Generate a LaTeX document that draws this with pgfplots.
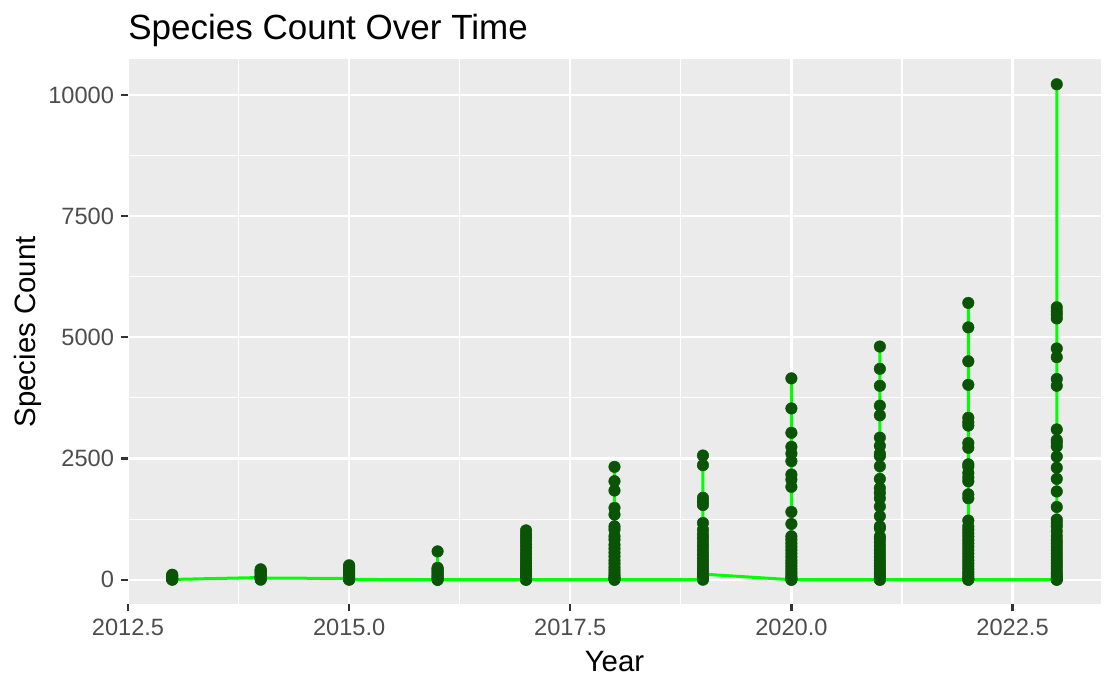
\documentclass[border=0pt]{standalone}
\usepackage{pgfplots}
\pgfplotsset{compat=1.18}
\usepackage{pgfplotstable}
\usepackage{fontspec}
\setmainfont{Liberation Sans}
\definecolor{panelbg}{HTML}{EBEBEB}
\definecolor{ticklab}{HTML}{4D4D4D}
\definecolor{tickcol}{HTML}{333333}
\definecolor{ptgreen}{RGB}{10,85,5}
\definecolor{lngreen}{RGB}{0,255,0}
\pgfplotstableread{
x y
2013 0
2013 10
2013 20
2013 35
2013 50
2013 70
2013 90
2013 103
2013 5
2014 45
2014 0
2014 15
2014 30
2014 50
2014 75
2014 100
2014 125
2014 150
2014 175
2014 195
2014 214
2014 35
2015 25
2015 0
2015 15
2015 35
2015 60
2015 90
2015 120
2015 150
2015 180
2015 210
2015 240
2015 270
2015 297
2015 5
2016 2
2016 0
2016 20
2016 45
2016 70
2016 100
2016 130
2016 160
2016 190
2016 220
2016 245
2016 584
2016 0
2017 0
2017 30
2017 60
2017 100
2017 140
2017 180
2017 230
2017 280
2017 330
2017 390
2017 450
2017 520
2017 590
2017 660
2017 730
2017 800
2017 870
2017 940
2017 1017
2017 0
2018 0
2018 20
2018 50
2018 90
2018 140
2018 200
2018 260
2018 330
2018 400
2018 480
2018 560
2018 640
2018 720
2018 826
2018 900
2018 1033
2018 1100
2018 1343
2018 1481
2018 1839
2018 2031
2018 2328
2018 0
2019 0
2019 30
2019 70
2019 120
2019 180
2019 240
2019 300
2019 370
2019 440
2019 520
2019 600
2019 680
2019 760
2019 850
2019 930
2019 1030
2019 1170
2019 1540
2019 1610
2019 1690
2019 2362
2019 2562
2019 115
2020 0
2020 20
2020 60
2020 110
2020 160
2020 220
2020 280
2020 340
2020 400
2020 470
2020 540
2020 610
2020 680
2020 750
2020 826
2020 895
2020 1150
2020 1398
2020 1915
2020 2066
2020 2169
2020 2445
2020 2603
2020 2741
2020 3030
2020 3533
2020 4153
2020 0
2021 0
2021 20
2021 60
2021 110
2021 160
2021 220
2021 280
2021 340
2021 400
2021 470
2021 540
2021 610
2021 690
2021 770
2021 850
2021 890
2021 1060
2021 1100
2021 1310
2021 1510
2021 1680
2021 1790
2021 1890
2021 2080
2021 2340
2021 2550
2021 2600
2021 2760
2021 2930
2021 3390
2021 3590
2021 4000
2021 4350
2021 4810
2021 0
2022 0
2022 20
2022 60
2022 110
2022 160
2022 220
2022 280
2022 340
2022 400
2022 470
2022 540
2022 610
2022 680
2022 750
2022 820
2022 890
2022 960
2022 1030
2022 1100
2022 1220
2022 1680
2022 1760
2022 2030
2022 2110
2022 2200
2022 2330
2022 2380
2022 2720
2022 2820
2022 3180
2022 3250
2022 3340
2022 4020
2022 4505
2022 5205
2022 5710
2022 0
2023 0
2023 20
2023 60
2023 110
2023 160
2023 220
2023 280
2023 340
2023 400
2023 470
2023 540
2023 610
2023 680
2023 750
2023 820
2023 900
2023 1000
2023 1100
2023 1170
2023 1240
2023 1500
2023 1820
2023 2080
2023 2310
2023 2540
2023 2750
2023 2830
2023 2880
2023 3100
2023 4000
2023 4140
2023 4590
2023 4770
2023 5390
2023 5470
2023 5540
2023 5620
2023 10220
2023 0
}\species
\begin{document}
\begin{tikzpicture}
\useasboundingbox (-64pt,-42.25pt) rectangle (494pt,302.25pt);
\begin{axis}[
  at={(0,0)}, anchor=south west,
  scale only axis,
  width=486.5pt, height=272.75pt,
  xmin=2012.5, xmax=2023.5,
  ymin=-511.5, ymax=10741.5,
  axis background/.style={fill=panelbg},
  axis line style={draw=none},
  xtick={2012.5,2015,2017.5,2020,2022.5},
  xticklabels={2012.5,2015.0,2017.5,2020.0,2022.5},
  ytick={0,2500,5000,7500,10000},
  yticklabels={0,2500,5000,7500,10000},
  scaled y ticks=false,
  minor xtick={2013.75,2016.25,2018.75,2021.25},
  minor ytick={1250,3750,6250,8750},
  grid=both,
  major grid style={white, line width=1.1pt},
  minor grid style={white, line width=0.55pt},
  minor tick length=0pt,
  major tick length=3.5pt,
  tick align=outside,
  xtick pos=bottom, ytick pos=left,
  tick style={tickcol, line width=1.1pt},
  ticklabel style={font=\fontsize{11.8}{14}\selectfont, text=ticklab},
  title={Species Count Over Time},
  title style={at={(0,1)}, anchor=base west, yshift=3.5pt, inner sep=0pt, font=\fontsize{17.5}{21}\selectfont},
  xlabel={Year},
  xlabel style={at={(axis description cs:0.5,0)}, anchor=base, yshift=-33.75pt, inner sep=0pt, font=\fontsize{14.7}{17}\selectfont},
  ylabel={Species Count},
  ylabel style={at={(axis description cs:0,0.5)}, anchor=center, yshift=50pt, inner sep=0pt, font=\fontsize{14.7}{17}\selectfont},
  clip=false,
]
\addplot[lngreen, line width=1.5pt, no markers] table[x=x,y=y] {\species};
\addplot[only marks, mark=*, mark size=2.9pt, mark options={fill=ptgreen, draw=ptgreen, line width=0.2pt}] table[x=x,y=y] {\species};
\end{axis}
\end{tikzpicture}
\end{document}
